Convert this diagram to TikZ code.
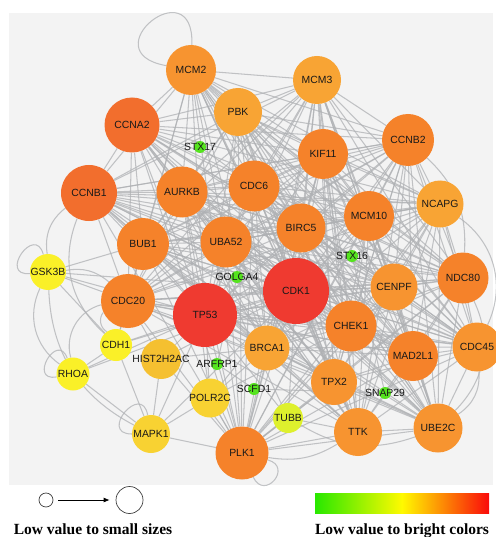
\documentclass[tikz,border=0pt]{standalone}
\usepackage{fontspec}
\setmainfont{Liberation Serif}
\setsansfont{Liberation Sans}
\usetikzlibrary{arrows.meta,backgrounds}

\definecolor{panel}{RGB}{243,243,243}
\definecolor{linkgray}{RGB}{175,177,180}
\definecolor{hubred}{RGB}{239,58,48}
\definecolor{deeporange}{RGB}{242,110,45}
\definecolor{midorange}{RGB}{245,130,42}
\definecolor{lightorange}{RGB}{247,148,48}
\definecolor{paleorange}{RGB}{248,164,52}
\definecolor{gold}{RGB}{245,192,48}
\definecolor{amber}{RGB}{248,210,50}
\definecolor{lemon}{RGB}{250,240,40}
\definecolor{lime}{RGB}{222,240,45}
\definecolor{leaf}{RGB}{85,228,30}

\def\hubs{MCM2,MCM3,PBK,CCNA2,KIF11,CCNB2,CCNB1,AURKB,CDC6,NCAPG,MCM10,BIRC5,BUB1,UBA52,CDK1,CENPF,NDC80,CDC20,TP53,CHEK1,CDC45,BRCA1,MAD2L1,TPX2,TTK,UBE2C,PLK1}

\begin{document}
\begin{tikzpicture}[x=1pt, y=-1pt,
    gene/.style={circle, fill=#1, draw=none, inner sep=0pt},
    every label/.style={font=\sffamily\fontsize{10.4}{12}\selectfont, text=black!90, inner sep=0pt},
    link/.style={draw=linkgray, line width=1.05pt, opacity=0.75},
    legend/.style={font=\bfseries\fontsize{15.5}{18}\selectfont, anchor=base}]
\useasboundingbox (0,0) rectangle (495,537);

% genes
\node[gene=lightorange, minimum size=50, label=center:MCM2] (MCM2) at (191,70) {};
\node[gene=paleorange, minimum size=48, label=center:MCM3] (MCM3) at (317,80) {};
\node[gene=paleorange, minimum size=48, label=center:PBK] (PBK) at (238,112) {};
\node[gene=deeporange, minimum size=55, label=center:CCNA2] (CCNA2) at (132,125) {};
\node[gene=leaf, minimum size=12, label=center:STX17] (STX17) at (200,147) {};
\node[gene=midorange, minimum size=50, label=center:KIF11] (KIF11) at (323,154) {};
\node[gene=midorange, minimum size=52, label=center:CCNB2] (CCNB2) at (408,140) {};
\node[gene=deeporange, minimum size=56, label=center:CCNB1] (CCNB1) at (89,193) {};
\node[gene=midorange, minimum size=51, label=center:AURKB] (AURKB) at (182,192) {};
\node[gene=midorange, minimum size=51, label=center:CDC6] (CDC6) at (254,186) {};
\node[gene=paleorange, minimum size=47, label=center:NCAPG] (NCAPG) at (440,204) {};
\node[gene=midorange, minimum size=50, label=center:MCM10] (MCM10) at (369,216) {};
\node[gene=midorange, minimum size=49, label=center:BIRC5] (BIRC5) at (301,228) {};
\node[gene=midorange, minimum size=52, label=center:BUB1] (BUB1) at (143,244) {};
\node[gene=midorange, minimum size=51, label=center:UBA52] (UBA52) at (226,242) {};
\node[gene=leaf, minimum size=12, label=center:STX16] (STX16) at (352,256) {};
\node[gene=lemon, minimum size=36, label=center:GSK3B] (GSK3B) at (48,272) {};
\node[gene=leaf, minimum size=12, label=center:GOLGA4] (GOLGA4) at (237,277) {};
\node[gene=hubred, minimum size=66, label=center:CDK1] (CDK1) at (296,291) {};
\node[gene=lightorange, minimum size=47, label=center:CENPF] (CENPF) at (394,287) {};
\node[gene=midorange, minimum size=51, label=center:NDC80] (NDC80) at (463,278) {};
\node[gene=midorange, minimum size=54, label=center:CDC20] (CDC20) at (128,301) {};
\node[gene=hubred, minimum size=64, label=center:TP53] (TP53) at (205,315) {};
\node[gene=midorange, minimum size=51, label=center:CHEK1] (CHEK1) at (351,326) {};
\node[gene=lightorange, minimum size=49, label=center:CDC45] (CDC45) at (477,347) {};
\node[gene=lemon, minimum size=32, label=center:CDH1] (CDH1) at (116,345) {};
\node[gene=paleorange, minimum size=45, label=center:BRCA1] (BRCA1) at (267,348) {};
\node[gene=midorange, minimum size=50, label=center:MAD2L1] (MAD2L1) at (413,356) {};
\node[gene=gold, minimum size=40, label=center:HIST2H2AC] (HIST2H2AC) at (161,359) {};
\node[gene=leaf, minimum size=12, label=center:ARFRP1] (ARFRP1) at (217,364) {};
\node[gene=lemon, minimum size=33, label=center:RHOA] (RHOA) at (73,374) {};
\node[gene=lightorange, minimum size=46, label=center:TPX2] (TPX2) at (334,382) {};
\node[gene=leaf, minimum size=12, label=center:SCFD1] (SCFD1) at (254,389) {};
\node[gene=leaf, minimum size=12, label=center:SNAP29] (SNAP29) at (385,393) {};
\node[gene=amber, minimum size=39, label=center:POLR2C] (POLR2C) at (210,398) {};
\node[gene=lime, minimum size=30, label=center:TUBB] (TUBB) at (288,418) {};
\node[gene=amber, minimum size=38, label=center:MAPK1] (MAPK1) at (151,434) {};
\node[gene=lightorange, minimum size=48, label=center:TTK] (TTK) at (358,432) {};
\node[gene=lightorange, minimum size=49, label=center:UBE2C] (UBE2C) at (438,428) {};
\node[gene=midorange, minimum size=53, label=center:PLK1] (PLK1) at (242,453) {};

\begin{scope}[on background layer]
\fill[panel] (9,13) rectangle (493,485);

% dense core
\foreach \a [count=\i] in \hubs {
  \foreach \b [count=\j] in \hubs {
    \ifnum\j>\i \draw[link] (\a) -- (\b); \fi
  }
}

% outer genes
\path[link]
  (GSK3B) edge (CDC20) edge (BUB1) edge (TP53) edge (CDK1) edge (CDH1)
  (CDH1) edge (CDC20) edge (TP53) edge (RHOA) edge (MAPK1) edge (CDK1) edge (BUB1)
  (RHOA) edge (MAPK1) edge (TP53) edge (CDK1)
  (MAPK1) edge (PLK1) edge (TP53) edge (HIST2H2AC) edge (CDK1) edge (POLR2C)
  (HIST2H2AC) edge (TP53) edge (CDK1) edge (PLK1) edge (CDC20) edge (BRCA1)
  (POLR2C) edge (TP53) edge (PLK1) edge (CDK1) edge (BRCA1) edge (CHEK1) edge (AURKB)
  (TUBB) edge (PLK1) edge (CDK1) edge (TP53) edge (TTK) edge (TPX2) edge (AURKB)
  (STX17) edge (STX16)
  (STX16) edge (SNAP29)
  (GOLGA4) edge (ARFRP1)
  (ARFRP1) edge (SCFD1)
  (SCFD1) edge (SNAP29);

% curved links and loops
\path[link]
  (GSK3B) edge[bend left=30] (CCNB1)
  (GSK3B) edge[bend left=25] (CDC20)
  (GSK3B) edge[bend right=40] (RHOA)
  (GSK3B) edge[bend right=30] (MAPK1)
  (CCNB1) edge[bend right=35] (CDH1)
  (CDC20) edge[bend right=45] (RHOA)
  (CDC20) edge[bend right=50] (CDH1)
  (PLK1) edge[bend right=20] (TTK)
  (TUBB) edge[bend right=25] (UBE2C)
  (NCAPG) edge[bend left=40] (CDC45)
  (NDC80) edge[bend left=35] (UBE2C)
  (CCNB2) edge[bend left=25] (NDC80)
  (CDC45) edge[bend left=30] (UBE2C)
  (MCM2) edge[out=88, in=170, looseness=6] (MCM2)
  (GSK3B) edge[out=105, in=185, looseness=3.5] (GSK3B)
  (RHOA) edge[out=110, in=190, looseness=3.5] (RHOA)
  (MAPK1) edge[out=100, in=180, looseness=3.5] (MAPK1)
  (PLK1) edge[out=-15, in=-65, looseness=3] (PLK1);
\end{scope}

% legend
\node[circle, draw=black!75, line width=0.7pt, minimum size=14] (small) at (46,500) {};
\node[circle, draw=black!75, line width=0.7pt, minimum size=27] (large) at (129.5,500) {};
\draw[-{Latex[length=6,width=5]}, line width=0.8pt, shorten <=5, shorten >=6] (small) -- (large);
\node[legend] (sizecap) at (93,534) {Low value to small sizes};

\node[minimum width=174, minimum height=20, inner sep=0pt,
  left color={rgb,255:red,40;green,232;blue,0},
  right color={rgb,255:red,250;green,10;blue,10},
  middle color={rgb,255:red,255;green,250;blue,0}] (ramp) at (402,503) {};
\node[legend] (colorcap) at (402,534) {Low value to bright colors};
\end{tikzpicture}
\end{document}
